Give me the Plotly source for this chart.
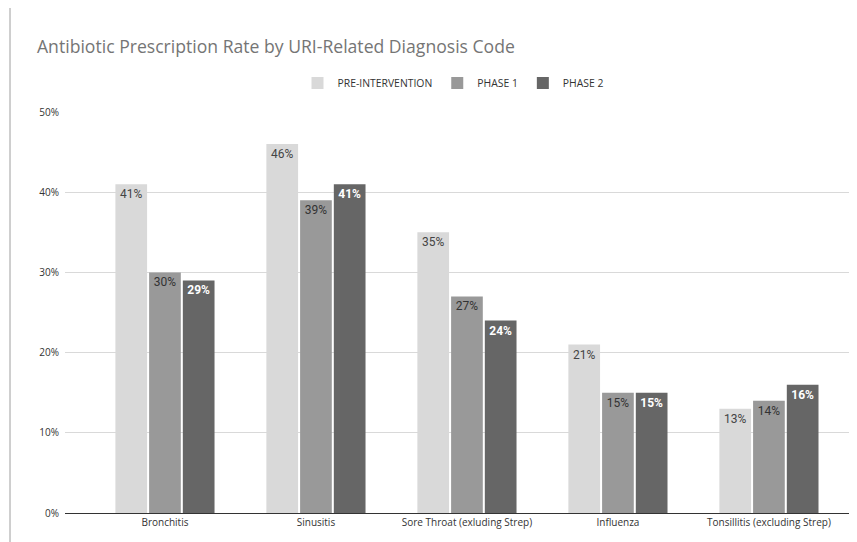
import plotly.graph_objects as go

categories = ["Bronchitis", "Sinusitis", "Sore Throat (exluding Strep)", "Influenza", "Tonsillitis (excluding Strep)"]
series_names = ["PRE-INTERVENTION", "PHASE 1", "PHASE 2"]
pre_intervention = [0.41, 0.46, 0.35, 0.21, 0.13]
phase1 = [0.30, 0.39, 0.27, 0.15, 0.14]
phase2 = [0.29, 0.41, 0.24, 0.15, 0.16]
tick_vals = [0, 0.1, 0.2, 0.3, 0.4, 0.5]
tick_text = ["0%", "10%", "20%", "30%", "40%", "50%"]

colors = ["#d9d9d9", "#999999", "#666666"]
text_colors = ["#444444", "#333333", "#ffffff"]
text_weights = ["normal", "normal", "bold"]

fig = go.Figure()
for name, vals, c, tc, tw in zip(series_names, [pre_intervention, phase1, phase2], colors, text_colors, text_weights):
    fig.add_trace(go.Bar(
        x=categories, y=vals, name=name,
        marker=dict(color=c, line=dict(width=0)),
        text=[f"{round(v*100)}%" for v in vals],
        textposition="inside", insidetextanchor="end", textangle=0,
        constraintext="none",
        textfont=dict(family="Roboto", size=12, color=tc, weight=tw),
        hoverinfo="skip",
    ))

# page has an 8px body margin; figure coords = screen coords - 8
OFF = 8
W, H = 857, 542
L, R, T, B = 65 - OFF, 10, 112 - OFF, 37
pw = W - L - R
ph = H - T - B

fig.update_layout(
    width=W, height=H,
    margin=dict(l=L, r=R, t=T, b=B),
    paper_bgcolor="white", plot_bgcolor="white",
    barmode="group", bargap=0.33, bargroupgap=0.06,
    title=dict(text="Antibiotic Prescription Rate by URI-Related Diagnosis Code",
               x=(37 - OFF) / W, xanchor="left", y=1 - (47 - OFF) / H, yanchor="middle",
               font=dict(family="Open Sans", size=17.6, color="#757575")),
    legend=dict(orientation="h", x=(453 - OFF - L) / pw, xanchor="center",
                y=(H - B - (83 - OFF)) / ph, yanchor="middle",
                font=dict(family="Open Sans", size=10.4, color="#333333"),
                itemwidth=30, traceorder="normal"),
    showlegend=True,
    xaxis=dict(range=[-0.662, 4.57], showgrid=False, showline=False, ticks="",
               ticklabelstandoff=2,
               tickfont=dict(family="Open Sans", size=10, color="#333333"),
               fixedrange=True),
    yaxis=dict(range=[0, 0.5], tickvals=tick_vals, ticktext=tick_text,
               showgrid=True, gridcolor="#d9d9d9", gridwidth=1,
               zeroline=True, zerolinecolor="#333333", zerolinewidth=1,
               showline=False, ticks="", ticklabelstandoff=5,
               tickfont=dict(family="Open Sans", size=10, color="#333333"),
               fixedrange=True),
    shapes=[dict(type="line", xref="paper", yref="paper",
                 x0=(10 - OFF - L) / pw, x1=(10 - OFF - L) / pw, y0=-B / ph, y1=(H - B) / ph,
                 line=dict(color="#9e9e9e", width=1))],
)

fig.write_html("out.html")
